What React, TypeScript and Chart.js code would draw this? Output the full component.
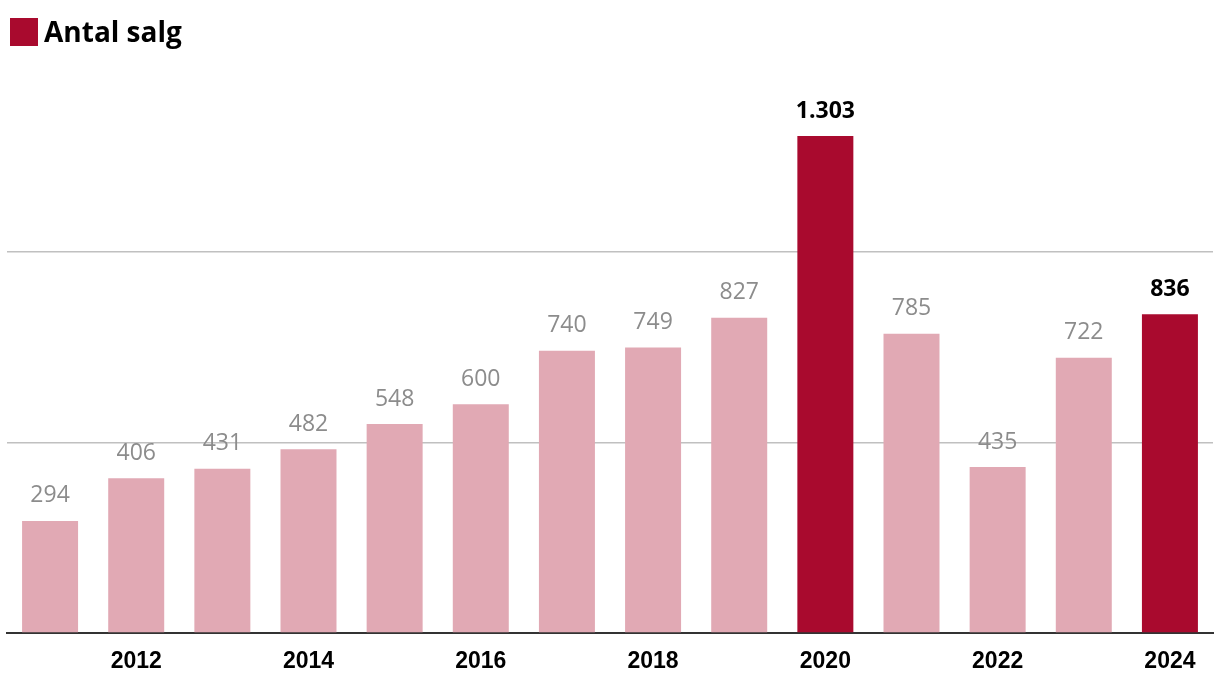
import React, { useEffect, useRef } from "react";
import { Chart, registerables } from "chart.js";

Chart.register(...registerables);

const years = ["2011", "2012", "2013", "2014", "2015", "2016", "2017", "2018", "2019", "2020", "2021", "2022", "2023", "2024"];
const sales = [294, 406, 431, 482, 548, 600, 740, 749, 827, 1303, 785, 435, 722, 836];
const highlighted = ["2020", "2024"];
const legendLabel = "Antal salg";

const DARK = "#A90A2E";
const PINK = "#E1A9B4";

const formatNum = (v: number) => v.toLocaleString("da-DK");

const labelsPlugin = {
  id: "valueLabels",
  afterDatasetsDraw(chart: any) {
    const ctx = chart.ctx;
    const meta = chart.getDatasetMeta(0);
    ctx.save();
    ctx.textAlign = "center";
    ctx.textBaseline = "middle";
    meta.data.forEach((bar: any, i: number) => {
      const hi = highlighted.includes(years[i]);
      ctx.font = hi ? "bold 23px 'Open Sans'" : "23px 'Open Sans'";
      ctx.fillStyle = hi ? "#000000" : "#8c8c8c";
      ctx.fillText(formatNum(sales[i]), bar.x, bar.y - 25);
    });
    // legend
    ctx.fillStyle = DARK;
    ctx.fillRect(10, 18, 28, 28);
    ctx.fillStyle = "#000000";
    ctx.font = "bold 28px 'Open Sans'";
    ctx.textAlign = "left";
    ctx.textBaseline = "alphabetic";
    ctx.fillText(legendLabel, 44, 42);
    ctx.restore();
  },
};

export default function App() {
  const ref = useRef<HTMLCanvasElement>(null);
  useEffect(() => {
    document.body.style.margin = "0";
    const chart = new Chart(ref.current!, {
      type: "bar",
      data: {
        labels: years,
        datasets: [
          {
            label: legendLabel,
            data: sales,
            backgroundColor: years.map((y) => (highlighted.includes(y) ? DARK : PINK)),
            categoryPercentage: 1,
            barPercentage: 0.65,
          },
        ],
      },
      options: {
        animation: false,
        responsive: false,
        layout: { padding: { top: 61, left: 7, right: 7, bottom: 0 } },
        plugins: { legend: { display: false }, tooltip: { enabled: false } },
        scales: {
          x: {
            afterFit: (scale: any) => {
              scale.height = 55;
            },
            grid: { display: false, drawTicks: false, tickLength: 0 },
            border: { display: true, color: "#333333", width: 2 },
            ticks: {
              autoSkip: false,
              maxRotation: 0,
              padding: 15,
              color: "#000000",
              font: { family: "'Liberation Sans'", size: 23, weight: "bold" },
              callback: (_v: any, i: number) => (i % 2 === 1 ? years[i] : ""),
            },
          },
          y: {
            min: 0,
            max: 1500,
            ticks: { display: false, stepSize: 500 },
            border: { display: false },
            grid: {
              drawTicks: false,
              tickLength: 0,
              color: (c: any) => (c.tick && (c.tick.value === 500 || c.tick.value === 1000) ? "#c0c0c0" : "rgba(0,0,0,0)"),
              lineWidth: 1.5,
            },
          },
        },
      },
      plugins: [labelsPlugin],
    });
    return () => chart.destroy();
  }, []);
  return <canvas ref={ref} width={1220} height={688} style={{ display: "block" }} />;
}
